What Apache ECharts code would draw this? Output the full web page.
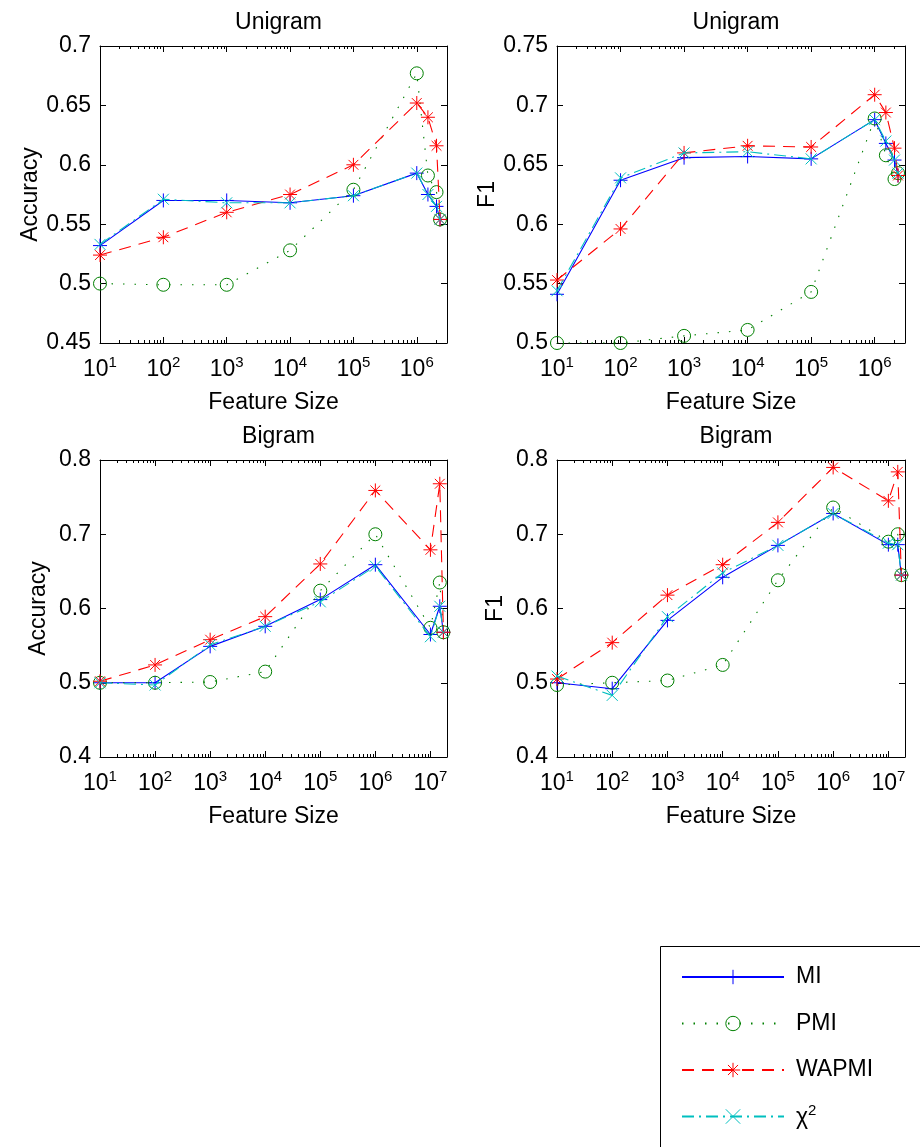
<!DOCTYPE html>
<html><head><meta charset="utf-8">
<script src="https://cdn.jsdelivr.net/npm/echarts@6/dist/echarts.min.js"></script>
<style>html,body{margin:0;padding:0;background:#fff}#c{width:920px;height:1147px}</style>
</head><body><div id="c"></div>
<script>
// ---------------- data ----------------
const seriesNames = ['MI', 'PMI', 'WAPMI', 'chi2'];
const xUni = [10, 100, 1000, 1e4, 1e5, 1e6, 1.5e6, 2.05e6, 2.33e6];
const xBi  = [10, 100, 1000, 1e4, 1e5, 1e6, 1e7, 1.48e7, 1.72e7];

const uniAccMI    = [0.532, 0.570, 0.570, 0.568, 0.574, 0.593, 0.575, 0.565, 0.554];
const uniAccPMI   = [0.500, 0.499, 0.499, 0.528, 0.579, 0.677, 0.591, 0.577, 0.554];
const uniAccWAPMI = [0.524, 0.539, 0.560, 0.575, 0.600, 0.652, 0.640, 0.616, 0.554];
const uniAccChi2  = [0.533, 0.571, 0.568, 0.568, 0.574, 0.593, 0.575, 0.565, 0.554];

const uniF1MI    = [0.541, 0.637, 0.656, 0.657, 0.655, 0.688, 0.668, 0.654, 0.641];
const uniF1PMI   = [0.500, 0.500, 0.506, 0.511, 0.543, 0.689, 0.658, 0.638, 0.643];
const uniF1WAPMI = [0.553, 0.596, 0.660, 0.666, 0.665, 0.709, 0.694, 0.664, 0.641];
const uniF1Chi2  = [0.544, 0.639, 0.660, 0.661, 0.655, 0.688, 0.670, 0.654, 0.643];

const biAccMI    = [0.500, 0.500, 0.549, 0.576, 0.612, 0.659, 0.565, 0.603, 0.568];
const biAccPMI   = [0.500, 0.500, 0.501, 0.515, 0.624, 0.700, 0.574, 0.635, 0.568];
const biAccWAPMI = [0.502, 0.524, 0.558, 0.589, 0.660, 0.759, 0.679, 0.768, 0.568];
const biAccChi2  = [0.500, 0.497, 0.551, 0.576, 0.609, 0.657, 0.562, 0.603, 0.568];

const biF1MI    = [0.500, 0.492, 0.584, 0.642, 0.685, 0.728, 0.686, 0.686, 0.645];
const biF1PMI   = [0.497, 0.500, 0.503, 0.524, 0.638, 0.736, 0.690, 0.700, 0.645];
const biF1WAPMI = [0.505, 0.554, 0.618, 0.659, 0.716, 0.790, 0.745, 0.784, 0.645];
const biF1Chi2  = [0.509, 0.483, 0.589, 0.648, 0.685, 0.728, 0.688, 0.686, 0.645];

const panelTitles = ['Unigram', 'Unigram', 'Bigram', 'Bigram'];
const yAxisNames = ['Accuracy', 'F1', 'Accuracy', 'F1'];
const xAxisName = 'Feature Size';
const xTickExponents = [1, 2, 3, 4, 5, 6, 7];
const minorMultipliers = [2, 3, 4, 5, 6, 7, 8, 9];

// ---------------- layout / style ----------------
const FONT = "'Liberation Sans', Arial, Helvetica, sans-serif";
const FS = 23;
const panels = [
  { grid: { left: 100, top: 46, width: 347, height: 297 }, x: xUni, xMax: 3e6, yMin: 0.45, yMax: 0.7, yInt: 0.05,
    ys: [uniAccMI, uniAccPMI, uniAccWAPMI, uniAccChi2] },
  { grid: { left: 557, top: 46, width: 348, height: 297 }, x: xUni, xMax: 3e6, yMin: 0.5, yMax: 0.75, yInt: 0.05,
    ys: [uniF1MI, uniF1PMI, uniF1WAPMI, uniF1Chi2] },
  { grid: { left: 100, top: 460, width: 347, height: 297 }, x: xBi, xMax: 2e7, yMin: 0.4, yMax: 0.8, yInt: 0.1,
    ys: [biAccMI, biAccPMI, biAccWAPMI, biAccChi2] },
  { grid: { left: 557, top: 460, width: 348, height: 297 }, x: xBi, xMax: 2e7, yMin: 0.4, yMax: 0.8, yInt: 0.1,
    ys: [biF1MI, biF1PMI, biF1WAPMI, biF1Chi2] }
];

const styles = {
  MI:    { color: '#0000FF', dash: 'solid', symbol: 'path://M0 5L10 5M5 0L5 10', size: 14 },
  PMI:   { color: '#008000', dash: [1.5, 10], symbol: 'path://M10 5A5 5 0 1 1 0 5A5 5 0 1 1 10 5Z', size: 13 },
  WAPMI: { color: '#FF0000', dash: [12, 8], symbol: 'path://M0 5L10 5M5 0L5 10M1.5 1.5L8.5 8.5M1.5 8.5L8.5 1.5', size: 14 },
  chi2:  { color: '#00BFBF', dash: [12, 5, 2, 5], symbol: 'path://M0 0L10 10M0 10L10 0', size: 11 }
};

const tickFmt = v => {
  const e = Math.round(Math.log10(v));
  return xTickExponents.includes(e) ? '{b|10}{s|' + e + '}' : '';
};

const grid = [], xAxis = [], yAxis = [], series = [], title = [];
panels.forEach((p, i) => {
  grid.push(Object.assign({ containLabel: false }, p.grid));
  title.push({
    text: panelTitles[i], left: p.grid.left + p.grid.width / 2, top: p.grid.top - 40, textAlign: 'center',
    textStyle: { fontFamily: FONT, fontSize: FS, fontWeight: 'normal', color: '#000' }
  });
  const axLine = { show: true, lineStyle: { color: '#000', width: 1 } };
  xAxis.push({
    type: 'log', logBase: 10, gridIndex: i, min: 10, max: p.xMax, position: 'bottom',
    name: xAxisName, nameLocation: 'middle', nameGap: 48,
    nameTextStyle: { fontFamily: FONT, fontSize: FS, color: '#000' },
    axisLine: axLine, splitLine: { show: false },
    axisTick: { show: true, inside: true, length: 6, lineStyle: { color: '#000' } },
    axisLabel: { show: true, showMaxLabel: false, margin: 12, formatter: tickFmt,
      rich: { b: { fontFamily: FONT, fontSize: FS, color: '#000', lineHeight: 26, verticalAlign: 'bottom' },
              s: { fontFamily: FONT, fontSize: 15, color: '#000', lineHeight: 15, verticalAlign: 'top' } } }
  });
  xAxis.push({
    type: 'log', logBase: 10, gridIndex: i, min: 10, max: p.xMax, position: 'top',
    axisLine: axLine, splitLine: { show: false }, axisLabel: { show: false },
    axisTick: { show: true, inside: true, length: 6, lineStyle: { color: '#000' } }
  });
  yAxis.push({
    type: 'value', gridIndex: i, min: p.yMin, max: p.yMax, interval: p.yInt, position: 'left',
    name: yAxisNames[i], nameLocation: 'middle', nameGap: 50, nameRotate: 90,
    nameTextStyle: { fontFamily: FONT, fontSize: FS, color: '#000' },
    axisLine: axLine, splitLine: { show: false },
    axisTick: { show: true, inside: true, length: 6, lineStyle: { color: '#000' } },
    axisLabel: { fontFamily: FONT, fontSize: FS, color: '#000', margin: 9,
      formatter: v => String(Math.round(v * 100) / 100) }
  });
  yAxis.push({
    type: 'value', gridIndex: i, min: p.yMin, max: p.yMax, interval: p.yInt, position: 'right',
    axisLine: axLine, splitLine: { show: false }, axisLabel: { show: false },
    axisTick: { show: true, inside: true, length: 6, lineStyle: { color: '#000' } }
  });
  // minor log ticks (2..9 within each decade), on bottom and top edges
  const minorVals = [];
  xTickExponents.forEach(e => minorMultipliers.forEach(m => {
    const v = m * Math.pow(10, e);
    if (v < p.xMax) minorVals.push([v, p.yMin]);
  }));
  series.push({
    type: 'custom', xAxisIndex: 2 * i, yAxisIndex: 2 * i, silent: true, z: 1,
    data: minorVals,
    renderItem: (params, api) => {
      const pt = api.coord([api.value(0), api.value(1)]);
      const cs = params.coordSys;
      const x = Math.round(pt[0]) + 0.5;
      return { type: 'group', children: [
        { type: 'line', shape: { x1: x, y1: cs.y + cs.height, x2: x, y2: cs.y + cs.height - 3 }, style: { stroke: '#000', lineWidth: 1 } },
        { type: 'line', shape: { x1: x, y1: cs.y, x2: x, y2: cs.y + 3 }, style: { stroke: '#000', lineWidth: 1 } }
      ] };
    }
  });
  seriesNames.forEach((n, k) => {
    const st = styles[n];
    series.push({
      type: 'line', name: n, xAxisIndex: 2 * i, yAxisIndex: 2 * i,
      data: p.x.map((xv, j) => [xv, p.ys[k][j]]),
      symbol: st.symbol, symbolSize: st.size, showAllSymbol: true,
      itemStyle: { color: 'rgba(0,0,0,0)', borderColor: st.color, borderWidth: 1 },
      lineStyle: { color: st.color, width: 1.1, type: st.dash },
      emphasis: { disabled: true }, animation: false, z: 2 + k
    });
  });
});

const chart = echarts.init(document.getElementById('c'), null, { renderer: 'canvas' });
chart.setOption({
  backgroundColor: '#fff',
  animation: false,
  title, grid, xAxis, yAxis, series,
  graphic: [{
    type: 'rect', silent: true,
    shape: { x: 660.5, y: 946.5, width: 400, height: 400 },
    style: { fill: 'none', stroke: '#000', lineWidth: 1 }
  }],
  legend: {
    data: seriesNames, orient: 'vertical', left: 681, top: 964,
    padding: 0, itemGap: 20.5, itemWidth: 102, itemHeight: 18,
    itemStyle: { borderWidth: 1 },
    formatter: n => n === 'chi2' ? '{g|χ}{s|2}' : n,
    textStyle: { fontFamily: FONT, fontSize: FS, color: '#000', lineHeight: 26, padding: [0, 0, 0, 7],
      rich: { g: { fontFamily: FONT, fontSize: FS, color: '#000', lineHeight: 26, verticalAlign: 'bottom' },
              s: { fontFamily: FONT, fontSize: 15, color: '#000', lineHeight: 15, verticalAlign: 'top' } } }
  }
});
</script></body></html>
